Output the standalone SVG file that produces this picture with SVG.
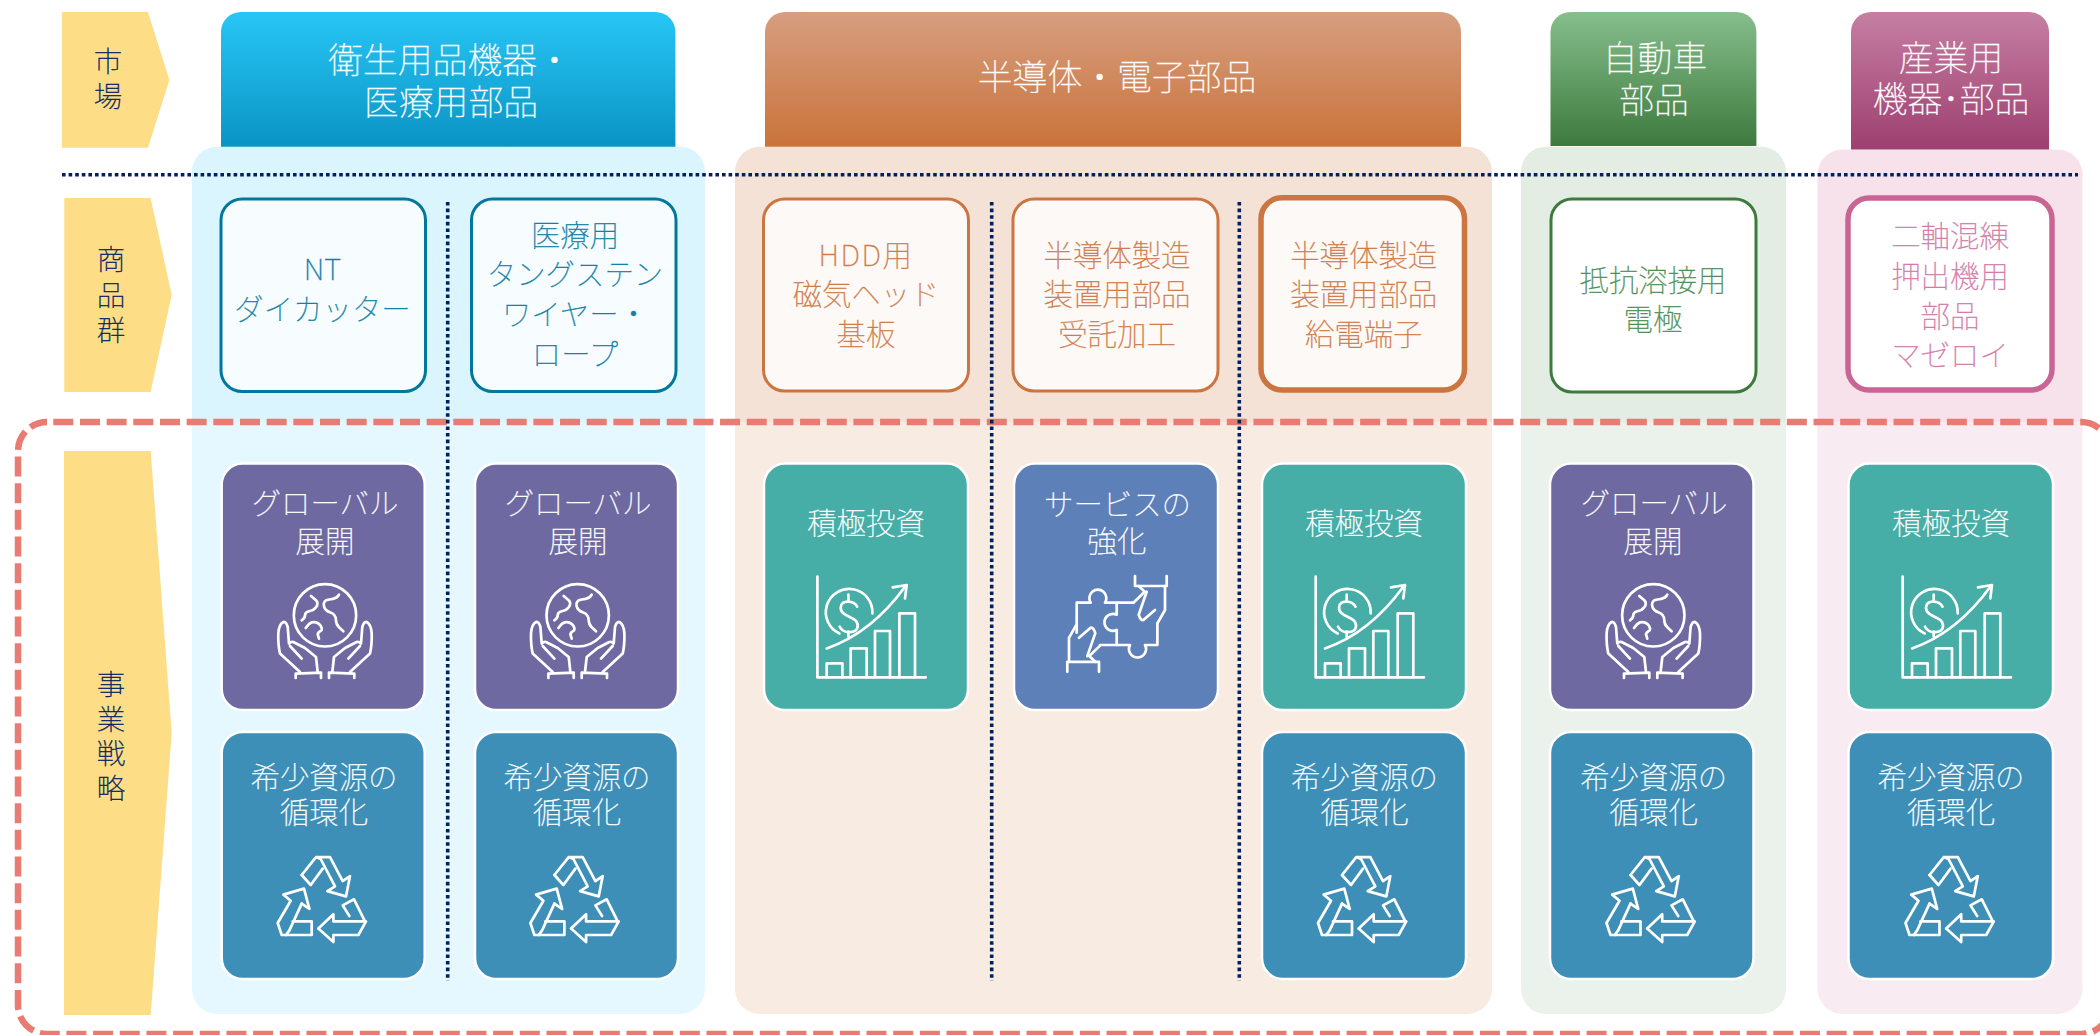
<svg xmlns="http://www.w3.org/2000/svg" xmlns:xlink="http://www.w3.org/1999/xlink" width="2100" height="1035" viewBox="0 0 2100 1035">
<style>
text{font-family:"Noto Sans CJK JP","Noto Sans",sans-serif;font-weight:100;text-anchor:middle;stroke-width:.35}
.lab{font-size:28.5px;fill:#002060;stroke:#002060}
.head{font-size:34.8px;fill:#fff;stroke:#fff}
.prod{font-size:29.4px}
.card{font-size:29.4px;fill:#fff;stroke:#fff}
.tb{fill:#1381A3;stroke:#1381A3}.to{fill:#CF7B4A;stroke:#CF7B4A}.tg{fill:#4D8F55;stroke:#4D8F55}.tm{fill:#D37BA8;stroke:#D37BA8}
.cb{stroke:#fff;stroke-width:2.5}
.purple{fill:#6E69A0}.blue{fill:#3E8FB7}.teal{fill:#46ADA7}.indigo{fill:#5E80B8}
.ic{fill:none;stroke:#fff;stroke-width:2.7;stroke-linejoin:round;stroke-linecap:round}
.dot{fill:none;stroke:#002060;stroke-width:3.6;stroke-dasharray:3.6 3}
.pb{stroke-width:3}
</style>
<defs>
<linearGradient id="gBlue" x1="0" y1="0" x2="0" y2="1"><stop offset="0" stop-color="#28C6F6"/><stop offset="1" stop-color="#0A94C4"/></linearGradient>
<linearGradient id="gPeach" x1="0" y1="0" x2="0" y2="1"><stop offset="0" stop-color="#D69E80"/><stop offset="1" stop-color="#CA733A"/></linearGradient>
<linearGradient id="gGreen" x1="0" y1="0" x2="0" y2="1"><stop offset="0" stop-color="#86BE8C"/><stop offset="1" stop-color="#3E7A3E"/></linearGradient>
<linearGradient id="gPink" x1="0" y1="0" x2="0" y2="1"><stop offset="0" stop-color="#C67FA3"/><stop offset="1" stop-color="#9D3F70"/></linearGradient>
<g id="i-globe" class="ic">
<circle cx="0" cy="0" r="31.2"/>
<path d="M-14,-19.3 L-9,-15 Q-6,-12 -9,-8 Q-11,-5 -16,-4 Q-20,-3 -20,0 Q-20,3 -23.3,5"/>
<path d="M14,-20.7 Q12,-17 8,-16.5 Q4,-16 1,-15 Q-2,-13 -1,-9 Q0,-5 5,-3 Q11,-1 11,5 Q11,9 14,12 L18.3,16"/>
<path d="M-19.3,12.7 Q-16,8 -13,7 Q-7,6 -4,11 Q-2,15 -5,16 Q-8,18 -7,20 L-6,23.3"/>
<g id="i-hand"><path d="M-7.3,56.7 L-9,41.7 L-20,32.7 L-31.7,26.7 Q-34,26 -36,28.3 L-37.3,11.7 Q-39,6 -41.7,6.7 Q-46,9 -46.7,18 Q-47,30 -45,38.3 L-25,56.7"/><path d="M-35,30.7 L-23.3,43.3"/><path d="M-29.3,62.7 V58.3 L-4,57.3 V62.7"/></g>
<use xlink:href="#i-hand" href="#i-hand" transform="scale(-1 1)"/>
</g>
<g id="i-recycle" class="ic">
<path d="M-20,-25 L-5.7,-42.9 H8.3 L21,-18.9 L28.3,-23.9 L24.3,-3.6 L5.7,-8.9 L13.3,-13.6 L-1,-41 L-5.7,-42.9"/>
<path d="M1,-31.4 L-11,-15 L-20,-25"/>
<path d="M-20,3.6 L-12.3,8.9 L-17.7,-11.4 L-38.3,-5.4 L-31,0.7 L-44,23 L-40,35 H-10 V21.4 H-29"/>
<path d="M-20,3.6 L-32.3,30.4 L-35.7,35"/>
<path d="M-3.3,28.6 L11.7,14.3 V21.4 H43.3 L32.3,-0.7 L21,5.4 L27.7,16"/>
<path d="M-3.3,28.6 L11.7,42 V35 H36.7 L44.3,21.4"/>
</g>
<g id="i-chart" class="ic">
<path d="M-49.3,-50 V50.7 H59"/>
<path d="M-40,50.7 V36.7 H-24.3 V50.7"/><path d="M-16,50.7 V21.7 H0 V50.7"/><path d="M8.3,50.7 V4.3 H23.3 V50.7"/><path d="M32.7,50.7 V-13.3 H48.3 V50.7"/>
<path d="M-40,21.7 Q5,6 38.3,-40"/><path d="M26,-39.3 L40,-41.7 L38.3,-28.3"/>
<path d="M-27.3,6.7 A23.3,23.3 0 1 1 5.7,-13.3"/>
<path d="M-9.5,-20 C-12,-26 -26,-28 -26,-19 C-26,-9 -9,-11 -9,-1 C-9,8 -24,7 -27,0"/><path d="M-18.3,-32 V-26.7"/><path d="M-18.3,5 V10"/>
</g>
<g id="i-puzzle" class="ic">
<path d="M-40,6 V-24 H-26 A8.5,8.5 0 1 1 -11.7,-24 H16.7"/>
<path d="M0,-24 V-12 A8.5,8.5 0 1 0 0,3.3 V18.3 H13.3 A8.5,8.5 0 1 0 28.3,18.3 H40.7 V-3.3"/>
<path d="M0,18.3 H-16.7"/>
<g id="i-phand"><path d="M18.3,-50.7 V-40.7 H50 V-50.7"/><path d="M48.3,-40.7 V-16.7 L40.7,-3.3"/><path d="M22,-40.7 L28,-35 L16.7,-24"/><path d="M30,-35 L22,-12 Q24,-6 26.7,-6.7 L38.3,-16.7"/></g>
<use xlink:href="#i-phand" href="#i-phand" transform="rotate(180 0.3 -2.8)"/>
</g>
</defs>
<rect width="2100" height="1035" fill="#fff"/>

<g id="panels">
<rect x="192" y="146.7" width="513" height="867.3" rx="25" fill="#DBF5FF"/>
<rect x="735" y="146.7" width="757" height="867.3" rx="25" fill="#F5E2D6"/>
<rect x="1521" y="146.7" width="265" height="867.3" rx="25" fill="#E3EDE3"/>
<rect x="1817.5" y="149.5" width="265" height="864.5" rx="25" fill="#F7E2EC"/>
</g>
<g id="scope"><rect x="18" y="422" width="2092" height="612" rx="29" fill="#fff" fill-opacity=".3" stroke="#E97B73" stroke-width="6.5" stroke-dasharray="20 6.67" stroke-dashoffset="20.37"/></g>

<g id="connectors">
<path class="dot" d="M62,174.7 H2078"/>
<path class="dot" d="M447.7,202 V981"/>
<path class="dot" d="M991.7,202 V981"/>
<path class="dot" d="M1239.3,202 V981"/>
</g>

<g id="label-market"><path d="M62,12 H148 L169.4,80 L148,147.7 H62 Z" fill="#FDDD85"/><text class="lab"><tspan x="108" y="71.7">市</tspan><tspan x="108" y="107">場</tspan></text></g>
<g id="label-product"><path d="M64.3,198 H150.6 L171.7,295 L150.6,392 H64.3 Z" fill="#FDDD85"/><text class="lab"><tspan x="111" y="270">商</tspan><tspan x="111" y="305.5">品</tspan><tspan x="111" y="341">群</tspan></text></g>
<g id="label-strategy"><path d="M64,451 H150.7 L171.7,733 L150.7,1015 H64 Z" fill="#FDDD85"/><text class="lab"><tspan x="111" y="695">事</tspan><tspan x="111" y="729.5">業</tspan><tspan x="111" y="764">戦</tspan><tspan x="111" y="799">略</tspan></text></g>

<g id="head-medical"><path d="M221,146.7 V32 A20,20 0 0 1 241,12 H655.4 A20,20 0 0 1 675.4,32 V146.7 Z" fill="url(#gBlue)"/><text class="head"><tspan x="450" y="73">衛生用品機器・</tspan><tspan x="451" y="115">医療用部品</tspan></text></g>
<g id="head-semi"><path d="M765,146.7 V32 A20,20 0 0 1 785,12 H1441 A20,20 0 0 1 1461,32 V146.7 Z" fill="url(#gPeach)"/><text class="head" x="1117" y="90">半導体・電子部品</text></g>
<g id="head-auto"><path d="M1550.5,146 V32 A20,20 0 0 1 1570.5,12 H1736.4 A20,20 0 0 1 1756.4,32 V146 Z" fill="url(#gGreen)"/><text class="head"><tspan x="1655" y="70.7">自動車</tspan><tspan x="1654" y="112.7">部品</tspan></text></g>
<g id="head-industry"><path d="M1851,149.5 V32 A20,20 0 0 1 1871,12 H2029 A20,20 0 0 1 2049,32 V149.5 Z" fill="url(#gPink)"/><text class="head"><tspan x="1951" y="70.7">産業用</tspan><tspan x="1951" y="111.7">機器･部品</tspan></text></g>

<g id="prod-nt"><rect class="pb" x="221" y="199" width="204.5" height="192.5" rx="21" fill="#F7FCFF" stroke="#00789C"/><text class="prod tb"><tspan x="322.5" y="280">NT</tspan><tspan x="322.5" y="320">ダイカッター</tspan></text></g>
<g id="prod-wire"><rect class="pb" x="471.5" y="199" width="204.5" height="192.5" rx="21" fill="#F7FCFF" stroke="#00789C"/><text class="prod tb"><tspan x="575" y="246">医療用</tspan><tspan x="575" y="285">タングステン</tspan><tspan x="575" y="325">ワイヤー・</tspan><tspan x="575" y="365">ロープ</tspan></text></g>
<g id="prod-hdd"><rect class="pb" x="763.5" y="199" width="205" height="192" rx="21" fill="#FDF9F6" stroke="#CB7540"/><text class="prod to"><tspan x="866" y="266" letter-spacing="1.5">HDD用</tspan><tspan x="866" y="305">磁気ヘッド</tspan><tspan x="866" y="345">基板</tspan></text></g>
<g id="prod-contract"><rect class="pb" x="1013" y="199" width="205" height="192" rx="21" fill="#FDF9F6" stroke="#CB7540"/><text class="prod to"><tspan x="1117" y="266">半導体製造</tspan><tspan x="1117" y="305">装置用部品</tspan><tspan x="1117" y="345">受託加工</tspan></text></g>
<g id="prod-terminal"><rect x="1261" y="197.8" width="203.5" height="192.2" rx="21" fill="#FDF9F6" stroke="#CB7540" stroke-width="5.5"/><text class="prod to"><tspan x="1363.7" y="266">半導体製造</tspan><tspan x="1363.7" y="305">装置用部品</tspan><tspan x="1363.7" y="345">給電端子</tspan></text></g>
<g id="prod-electrode"><rect class="pb" x="1551" y="199" width="205" height="193" rx="21" fill="#fff" stroke="#3E7A3E"/><text class="prod tg"><tspan x="1653" y="290.7">抵抗溶接用</tspan><tspan x="1653" y="330">電極</tspan></text></g>
<g id="prod-mazeloy"><rect x="1848" y="198" width="204" height="192" rx="21" fill="#fff" stroke="#C96595" stroke-width="5.5"/><text class="prod tm"><tspan x="1950" y="247">二軸混練</tspan><tspan x="1950" y="287">押出機用</tspan><tspan x="1950" y="327">部品</tspan><tspan x="1950" y="366">マゼロイ</tspan></text></g>

<g id="c1-global"><rect class="cb purple" x="221.7" y="463.6" width="203" height="246.5" rx="21"/><text class="card"><tspan x="325" y="513.5">グローバル</tspan><tspan x="325" y="551.5">展開</tspan></text><use href="#i-globe" xlink:href="#i-globe" transform="translate(325 615.3)"/></g>
<g id="c1-recycle"><rect class="cb blue" x="221.7" y="732" width="203" height="247" rx="21"/><text class="card"><tspan x="324" y="787.5">希少資源の</tspan><tspan x="324" y="823">循環化</tspan></text><use href="#i-recycle" xlink:href="#i-recycle" transform="translate(321.7 900)"/></g>
<g id="c2-global"><rect class="cb purple" x="475" y="463.6" width="203" height="246.5" rx="21"/><text class="card"><tspan x="578" y="513.5">グローバル</tspan><tspan x="578" y="551.5">展開</tspan></text><use href="#i-globe" xlink:href="#i-globe" transform="translate(577.7 615.3)"/></g>
<g id="c2-recycle"><rect class="cb blue" x="475" y="732" width="203" height="247" rx="21"/><text class="card"><tspan x="577" y="787.5">希少資源の</tspan><tspan x="577" y="823">循環化</tspan></text><use href="#i-recycle" xlink:href="#i-recycle" transform="translate(574.4 900)"/></g>
<g id="c3-invest"><rect class="cb teal" x="764" y="463.6" width="204" height="246.5" rx="21"/><text class="card" x="866" y="534">積極投資</text><use href="#i-chart" xlink:href="#i-chart" transform="translate(866.7 626.7)"/></g>
<g id="c4-service"><rect class="cb indigo" x="1014" y="463.6" width="204" height="246.5" rx="21"/><text class="card"><tspan x="1117.5" y="515">サービスの</tspan><tspan x="1117" y="551.5">強化</tspan></text><use href="#i-puzzle" xlink:href="#i-puzzle" transform="translate(1116.7 626.7)"/></g>
<g id="c5-invest"><rect class="cb teal" x="1262" y="463.6" width="204" height="246.5" rx="21"/><text class="card" x="1364" y="534">積極投資</text><use href="#i-chart" xlink:href="#i-chart" transform="translate(1365 626.7)"/></g>
<g id="c5-recycle"><rect class="cb blue" x="1262" y="732" width="204" height="247" rx="21"/><text class="card"><tspan x="1364.5" y="787.5">希少資源の</tspan><tspan x="1364.5" y="823">循環化</tspan></text><use href="#i-recycle" xlink:href="#i-recycle" transform="translate(1362 900)"/></g>
<g id="c6-global"><rect class="cb purple" x="1550" y="463.6" width="203.5" height="246.5" rx="21"/><text class="card"><tspan x="1654" y="513.5">グローバル</tspan><tspan x="1653" y="551.5">展開</tspan></text><use href="#i-globe" xlink:href="#i-globe" transform="translate(1653.3 615.3)"/></g>
<g id="c6-recycle"><rect class="cb blue" x="1550" y="732" width="203.5" height="247" rx="21"/><text class="card"><tspan x="1653.7" y="787.5">希少資源の</tspan><tspan x="1653.7" y="823">循環化</tspan></text><use href="#i-recycle" xlink:href="#i-recycle" transform="translate(1650.5 900)"/></g>
<g id="c7-invest"><rect class="cb teal" x="1848.5" y="463.6" width="204.5" height="246.5" rx="21"/><text class="card" x="1951" y="534">積極投資</text><use href="#i-chart" xlink:href="#i-chart" transform="translate(1952 626.7)"/></g>
<g id="c7-recycle"><rect class="cb blue" x="1848.5" y="732" width="204.5" height="247" rx="21"/><text class="card"><tspan x="1951" y="787.5">希少資源の</tspan><tspan x="1951" y="823">循環化</tspan></text><use href="#i-recycle" xlink:href="#i-recycle" transform="translate(1949.5 900)"/></g>
</svg>
